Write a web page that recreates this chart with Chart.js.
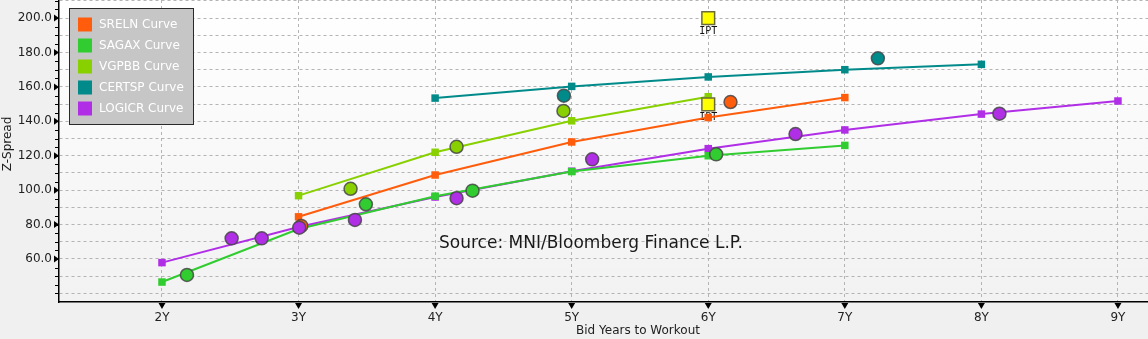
<!DOCTYPE html>
<html>
<head>
<meta charset="utf-8">
<script src="https://cdn.jsdelivr.net/npm/chart.js@4"></script>
<style>
  html, body { margin: 0; padding: 0; background: #f0f0f0; }
  #wrap { width: 1148px; height: 339px; }
</style>
</head>
<body>
<div id="wrap"><canvas id="c" width="1148" height="339"></canvas></div>
<script>
// ---- Axis ticks ----
const xTickValues = [2, 3, 4, 5, 6, 7, 8, 9];
const xTickLabels = ["2Y", "3Y", "4Y", "5Y", "6Y", "7Y", "8Y", "9Y"];
const yGridValues = [40, 50, 60, 70, 80, 90, 100, 110, 120, 130, 140, 150, 160, 170, 180, 190, 200, 210];
const yLabelValues = [60, 80, 100, 120, 140, 160, 180, 200];

// ---- Curves ----
const srelnCurveX = [3, 4, 5, 6, 7];
const srelnCurveY = [84.5, 108.8, 128, 142.2, 153.8];
const sagaxCurveX = [2, 3, 4, 5, 6, 7];
const sagaxCurveY = [46.6, 77.4, 96.5, 110.8, 120, 126];
const vgpbbCurveX = [3, 4, 5, 6];
const vgpbbCurveY = [96.8, 122, 140.3, 154.3];
const certspCurveX = [4, 5, 6, 7, 8];
const certspCurveY = [153.5, 160.3, 165.8, 170, 173.1];
const logicrCurveX = [2, 3, 4, 5, 6, 7, 8, 9];
const logicrCurveY = [57.9, 78.6, 96, 111, 124.1, 135, 144.2, 151.8];

// ---- Bonds ----
const srelnBondX = [3.02, 6.163];
const srelnBondY = [79.2, 151.2];
const sagaxBondX = [2.183, 3.493, 4.274, 6.058];
const sagaxBondY = [50.7, 91.8, 99.7, 120.8];
const vgpbbBondX = [3.381, 4.157, 4.94];
const vgpbbBondY = [100.8, 125.2, 146];
const certspBondX = [4.943, 7.242];
const certspBondY = [154.9, 176.6];
const logicrBondX = [2.51, 2.73, 3.005, 3.413, 4.157, 5.15, 6.639, 8.132];
const logicrBondY = [72.0, 72.0, 78.2, 82.7, 95.3, 117.9, 132.6, 144.4];

// ---- IPT ----
const iptX = [6, 6];
const iptY = [200, 149.9];
const iptLabels = ["IPT", "IPT"];

const colors = {
  sreln: "#ff5c0c",
  sagax: "#30cc30",
  vgpbb: "#88d000",
  certsp: "#008a8a",
  logicr: "#b02ee6"
};

const pts = (xs, ys) => xs.map((x, i) => ({ x: x, y: ys[i] }));

function curve(label, xs, ys, color) {
  return {
    label: label, data: pts(xs, ys), showLine: true,
    borderColor: color, backgroundColor: color, borderWidth: 2,
    pointStyle: "rect", pointRadius: 5.3, pointBorderWidth: 0,
    order: 3, isCurve: true
  };
}
function bond(label, xs, ys, color, order) {
  return {
    label: label, data: pts(xs, ys), showLine: false,
    backgroundColor: color, borderColor: "rgba(70,70,70,0.85)", borderWidth: 1.5,
    pointStyle: "circle", pointRadius: 6.5, order: order
  };
}

const datasets = [
  curve("SRELN Curve", srelnCurveX, srelnCurveY, colors.sreln),
  curve("SAGAX Curve", sagaxCurveX, sagaxCurveY, colors.sagax),
  curve("VGPBB Curve", vgpbbCurveX, vgpbbCurveY, colors.vgpbb),
  curve("CERTSP Curve", certspCurveX, certspCurveY, colors.certsp),
  curve("LOGICR Curve", logicrCurveX, logicrCurveY, colors.logicr),
  bond("LOGICR", logicrBondX, logicrBondY, colors.logicr, 1),
  bond("SRELN", srelnBondX, srelnBondY, colors.sreln, 1.5),
  bond("SAGAX", sagaxBondX, sagaxBondY, colors.sagax, 1.2),
  bond("VGPBB", vgpbbBondX, vgpbbBondY, colors.vgpbb, 1.2),
  bond("CERTSP", certspBondX, certspBondY, colors.certsp, 1.2),
  {
    label: "IPT", data: pts(iptX, iptY), showLine: false,
    backgroundColor: "#ffff00", borderColor: "#6b6b3a", borderWidth: 1.5,
    pointStyle: "rect", pointRadius: 9, order: 2, pointLabels: iptLabels
  }
];

const FONT = "'DejaVu Sans', sans-serif";

const bgPlugin = {
  id: "bg",
  beforeDraw(chart) {
    const { ctx, chartArea: a } = chart;
    ctx.save();
    ctx.fillStyle = "#f0f0f0";
    ctx.fillRect(0, 0, chart.width, chart.height);
    const g = ctx.createLinearGradient(0, a.top, 0, a.bottom);
    g.addColorStop(0, "#ffffff");
    g.addColorStop(1, "#f2f2f2");
    ctx.fillStyle = g;
    ctx.fillRect(a.left, a.top, a.right - a.left, a.bottom - a.top);
    ctx.restore();
  }
};

const labelPlugin = {
  id: "ptlabels",
  beforeDatasetsDraw(chart) {
    const { ctx } = chart;
    chart.data.datasets.forEach((ds, i) => {
      if (!ds.pointLabels) return;
      const meta = chart.getDatasetMeta(i);
      ctx.save();
      ctx.fillStyle = "#111";
      ctx.font = "10px 'DejaVu Sans Mono', monospace";
      ctx.textAlign = "center";
      ctx.textBaseline = "middle";
      meta.data.forEach((el, j) => {
        ctx.fillText(ds.pointLabels[j], el.x, el.y + 13.5);
      });
      ctx.restore();
    });
  }
};

const decorPlugin = {
  id: "decor",
  afterDraw(chart) {
    const { ctx, chartArea: a, scales } = chart;
    const xs = scales.x, ys = scales.y;
    ctx.save();
    ctx.fillStyle = "#000";
    ctx.strokeStyle = "#000";
    ctx.lineWidth = 1;
    // minor ticks on y axis every 5
    for (let v = 35; v <= 210; v += 5) {
      const y = Math.round(ys.getPixelForValue(v)) + 0.5;
      if (y < a.top || y > a.bottom) continue;
      ctx.beginPath();
      ctx.moveTo(a.left - 4, y);
      ctx.lineTo(a.left, y);
      ctx.stroke();
    }
    // triangles on y axis at labeled ticks
    yLabelValues.forEach(v => {
      const y = ys.getPixelForValue(v);
      ctx.beginPath();
      ctx.moveTo(a.left - 5, y - 3.5);
      ctx.lineTo(a.left, y);
      ctx.lineTo(a.left - 5, y + 3.5);
      ctx.closePath();
      ctx.fill();
    });
    // triangles on x axis
    xTickValues.forEach(v => {
      const x = xs.getPixelForValue(v);
      ctx.beginPath();
      ctx.moveTo(x - 3.5, a.bottom + 1);
      ctx.lineTo(x + 3.5, a.bottom + 1);
      ctx.lineTo(x, a.bottom + 7);
      ctx.closePath();
      ctx.fill();
    });
    // axis titles
    ctx.fillStyle = "#222";
    ctx.font = "12px " + FONT;
    ctx.textAlign = "center";
    ctx.textBaseline = "middle";
    ctx.fillText("Bid Years to Workout", 638, 331);
    ctx.save();
    ctx.translate(8, 144);
    ctx.rotate(-Math.PI / 2);
    ctx.fillText("Z-Spread", 0, 0);
    ctx.restore();
    // source
    ctx.fillStyle = "#1a1a1a";
    ctx.font = "17px " + FONT;
    ctx.textAlign = "left";
    ctx.textBaseline = "middle";
    ctx.fillText("Source: MNI/Bloomberg Finance L.P.", 439, 244);
    // legend
    const lx = 69.5, ly = 8.5, lw = 124, lh = 116;
    ctx.fillStyle = "#c6c6c6";
    ctx.fillRect(lx, ly, lw, lh);
    ctx.strokeStyle = "#2a2a2a";
    ctx.lineWidth = 1;
    ctx.strokeRect(lx, ly, lw, lh);
    ctx.font = "12px " + FONT;
    ctx.textAlign = "left";
    ctx.textBaseline = "middle";
    let k = 0;
    chart.data.datasets.forEach(ds => {
      if (!ds.isCurve) return;
      const cy = 24.5 + k * 21;
      ctx.fillStyle = ds.backgroundColor;
      ctx.fillRect(78, cy - 7, 14, 14);
      ctx.fillStyle = "#ffffff";
      ctx.fillText(ds.label, 99, cy + 0.5);
      k++;
    });
    ctx.restore();
  }
};

function zeroPad(s) {
  s.paddingTop = 0; s.paddingBottom = 0; s.paddingLeft = 0; s.paddingRight = 0;
}

new Chart(document.getElementById("c"), {
  type: "scatter",
  data: { datasets: datasets },
  options: {
    responsive: false,
    devicePixelRatio: 1,
    animation: false,
    layout: { padding: 0, autoPadding: false },
    plugins: { legend: { display: false }, tooltip: { enabled: false } },
    scales: {
      x: {
        type: "linear", min: 1.246, max: 9.22,
        afterBuildTicks: s => { s.ticks = xTickValues.map(v => ({ value: v })); },
        afterFit: s => { s.height = 37; zeroPad(s); },
        grid: { color: "#b4b4b4", drawTicks: false },
        border: { display: true, color: "#000", width: 1.5, dash: [3, 3] },
        ticks: {
          padding: 9, color: "#222", font: { family: FONT, size: 12 },
          maxRotation: 0, autoSkip: false,
          callback: v => { const i = xTickValues.indexOf(v); return i >= 0 ? xTickLabels[i] : ""; }
        }
      },
      y: {
        type: "linear", min: 35, max: 210.5,
        afterBuildTicks: s => { s.ticks = yGridValues.map(v => ({ value: v })); },
        afterFit: s => { s.width = 59; zeroPad(s); },
        grid: { color: "#b4b4b4", drawTicks: false },
        border: { display: true, color: "#000", width: 1.5, dash: [3, 3] },
        ticks: {
          padding: 7, color: "#222", font: { family: FONT, size: 12 },
          autoSkip: false,
          callback: v => yLabelValues.includes(v) ? v.toFixed(1) : ""
        }
      }
    }
  },
  plugins: [bgPlugin, labelPlugin, decorPlugin]
});
</script>
</body>
</html>
